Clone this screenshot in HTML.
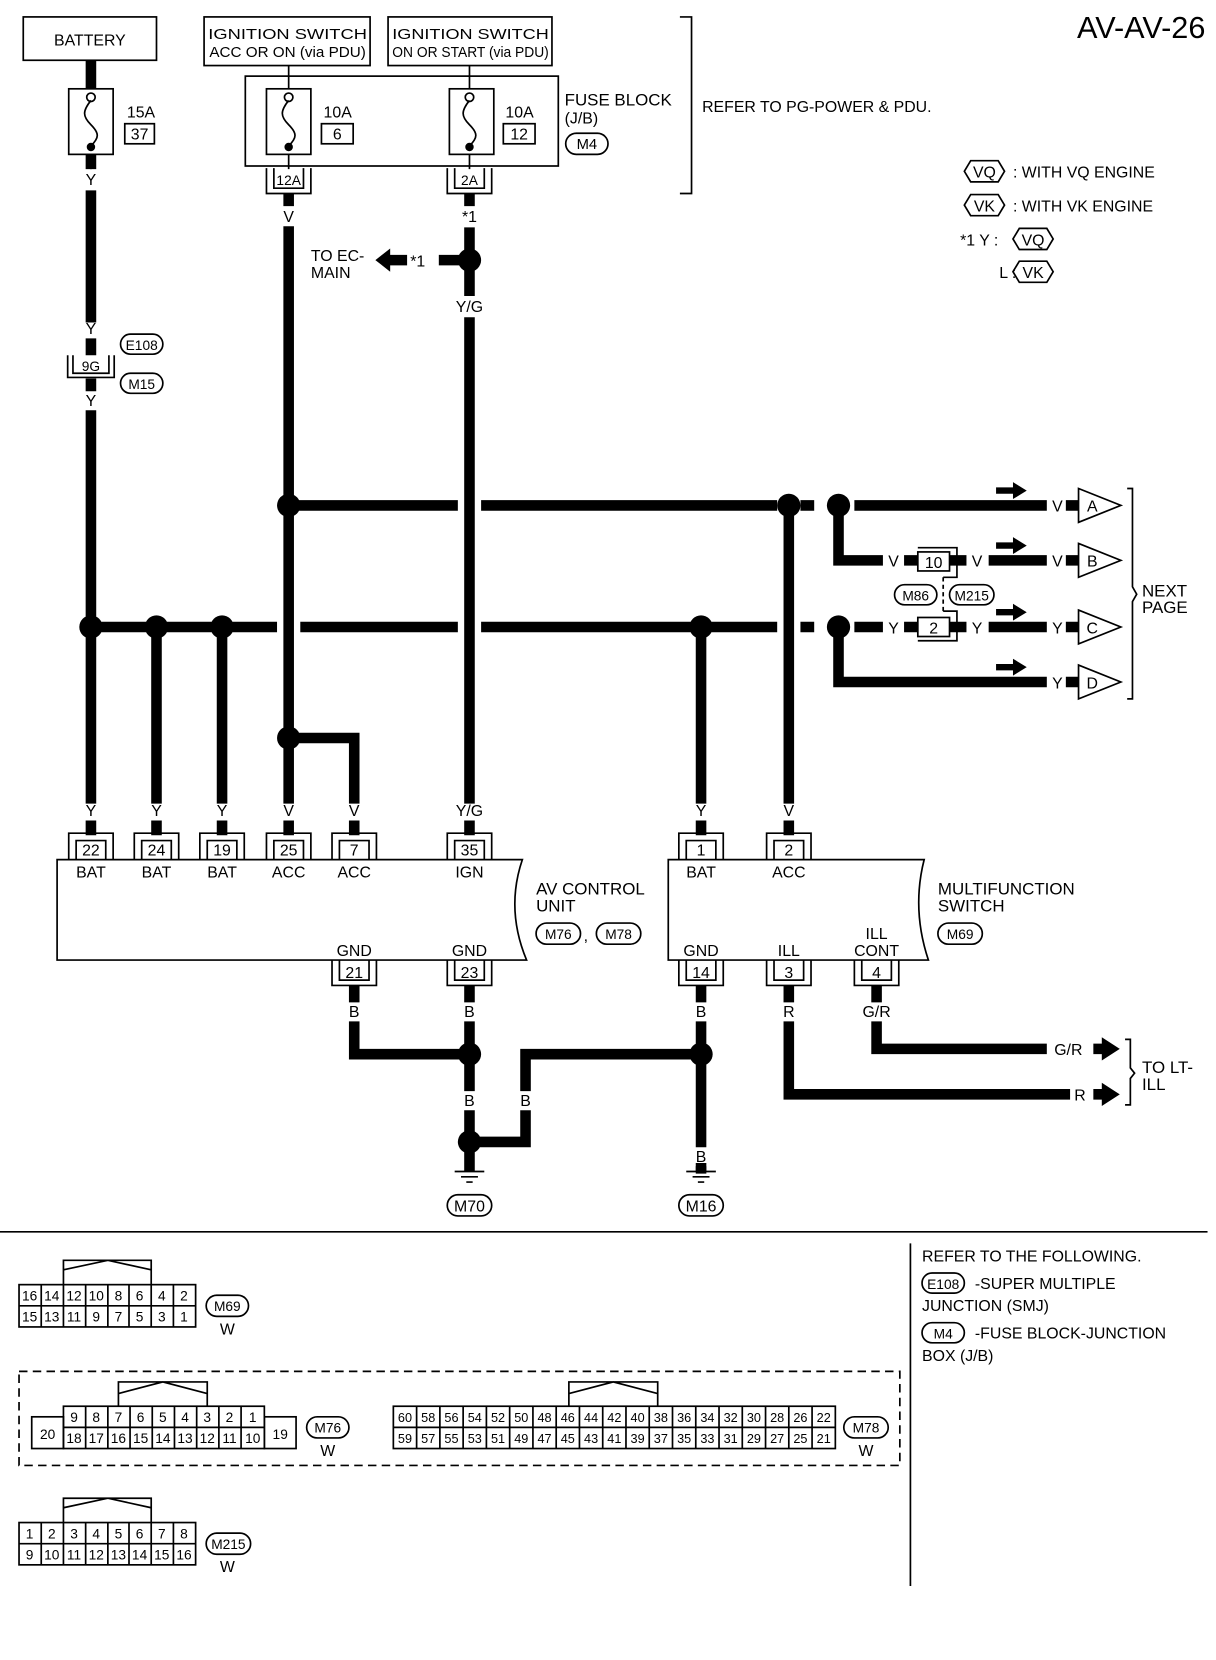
<!DOCTYPE html>
<html><head><meta charset="utf-8"><style>
html,body{margin:0;padding:0;background:#fff}
svg{display:block;font-family:"Liberation Sans",sans-serif}
text{fill:#000}
.t{text-anchor:middle}
.w{stroke:#000;stroke-width:10;fill:none}
.l{stroke:#000;stroke-width:1.6;fill:none}
.c text{text-anchor:middle}
</style></head><body>
<svg width="1216" height="1660" viewBox="0 0 1150 1570" preserveAspectRatio="none" font-size="15" xmlns="http://www.w3.org/2000/svg">
<rect width="1150" height="1570" fill="#fff"/>
<!-- top boxes -->
<rect x="22" y="16" width="126" height="41" class="l"/><text x="85" y="43" class="t">BATTERY</text>
<rect x="193" y="16" width="157" height="46" class="l"/><text x="272" y="37" class="t" font-size="14" textLength="150" lengthAdjust="spacingAndGlyphs">IGNITION SWITCH</text><text x="272" y="54" class="t" font-size="14" textLength="148" lengthAdjust="spacingAndGlyphs">ACC OR ON (via PDU)</text>
<rect x="367" y="16" width="155" height="46" class="l"/><text x="445" y="37" class="t" font-size="14" textLength="148" lengthAdjust="spacingAndGlyphs">IGNITION SWITCH</text><text x="445" y="54" class="t" font-size="14" textLength="148" lengthAdjust="spacingAndGlyphs">ON OR START (via PDU)</text>
<text x="1140" y="36" font-size="29" text-anchor="end">AV-AV-26</text>
<!-- fuse block -->
<rect x="232" y="72" width="296" height="85" class="l"/>
<g class="l">
<rect x="65" y="84" width="42" height="62"/><rect x="252" y="84" width="42" height="62"/><rect x="425" y="84" width="42" height="62"/>
<path d="M86 57V84 M86 146V160 M273 62V84 M444 62V84"/>
<path d="M86 95C78 105 78 110 86 118S94 130 86 138M273 95C265 105 265 110 273 118S281 130 273 138M444 95C436 105 436 110 444 118S452 130 444 138"/>
</g>
<path d="M86 57V84" class="w"/>
<circle cx="86" cy="92" r="4" class="l" fill="#fff"/><circle cx="86" cy="139" r="4"/>
<circle cx="273" cy="92" r="4" class="l" fill="#fff"/><circle cx="273" cy="139" r="4"/>
<circle cx="444" cy="92" r="4" class="l" fill="#fff"/><circle cx="444" cy="139" r="4"/>
<path d="M273 146V160 M444 146V160" class="l"/>
<text x="120" y="111">15A</text><rect x="118" y="117" width="28" height="19" class="l"/><text x="132" y="132" class="t">37</text>
<text x="306" y="111">10A</text><rect x="304" y="117" width="30" height="19" class="l"/><text x="319" y="132" class="t">6</text>
<text x="478" y="111">10A</text><rect x="476" y="117" width="30" height="19" class="l"/><text x="491" y="132" class="t">12</text>
<text x="534" y="100" font-size="16">FUSE BLOCK</text><text x="534" y="117">(J/B)</text>
<rect x="535" y="126" width="40" height="20" rx="10" class="l"/><text x="555" y="141" class="t" font-size="14">M4</text>
<path d="M643 16H654V183H643" class="l" stroke-width="2"/>
<text x="664" y="106">REFER TO PG-POWER &amp; PDU.</text>
<!-- legend -->
<path d="M912 162l6-10h26l6 10-6 10h-26z M912 194l6-10h26l6 10-6 10h-26z M958 226l6-10h26l6 10-6 10h-26z M958 257l6-10h26l6 10-6 10h-26z" class="l" stroke-width="2"/>
<text x="931" y="168" class="t">VQ</text><text x="931" y="200" class="t">VK</text><text x="977" y="232" class="t">VQ</text><text x="977" y="263" class="t">VK</text>
<text x="958" y="168">: WITH VQ ENGINE</text><text x="958" y="200">: WITH VK ENGINE</text>
<text x="908" y="232">*1   Y :</text><text x="945" y="263">L :</text>
<!-- 12A / 2A connectors -->
<g class="l"><path d="M252 159V183H294V159M259 159V178H287V159M423 159V183H465V159M430 159V178H458V159"/></g>
<text x="273" y="175" class="t" font-size="13">12A</text><text x="444" y="175" class="t" font-size="13">2A</text>
<!-- main wires -->
<g class="w">
<path d="M86 146V160M86 180V305M86 320V336M86 358V370M86 388V760M86 776V790"/>
<path d="M148 593V760M148 776V790M210 593V760M210 776V790"/>
<path d="M273 183V195M273 214V760M273 776V790"/>
<path d="M273 698H335V760M335 776V790"/>
<path d="M444 183V195M444 215V280M444 300V760M444 776V790"/>
<path d="M444 246H415"/>
<path d="M273 478H433M455 478H735M757 478H770M808 478H990"/>
<path d="M793 478V530H835M935 530H990"/>
<path d="M86 593H262M284 593H433M455 593H735M757 593H770M808 593H835M935 593H990"/>
<path d="M793 593V645H990"/>
<path d="M663 593V760M663 776V790M746 478V760M746 776V790"/>
<path d="M855 530H868M898 530H914M855 593H868M898 593H914"/>
<!-- bottom -->
<path d="M335 932V948M335 966V997H444M444 932V948M444 966V1032M444 1050V1100"/>
<path d="M444 1080H497V1050M497 1032V997H663M663 932V948M663 966V1085M663 1103V1110"/>
<path d="M746 932V948M746 966V1035H1012M829 932V948M829 966V992H990"/>
</g>
<g>
<circle cx="444" cy="246" r="11"/><circle cx="273" cy="478" r="11"/><circle cx="746" cy="478" r="11"/><circle cx="793" cy="478" r="11"/>
<circle cx="86" cy="593" r="11"/><circle cx="148" cy="593" r="11"/><circle cx="210" cy="593" r="11"/><circle cx="663" cy="593" r="11"/><circle cx="793" cy="593" r="11"/>
<circle cx="273" cy="698" r="11"/>
<circle cx="444" cy="997" r="11"/><circle cx="444" cy="1080" r="11"/><circle cx="663" cy="997" r="11"/>
</g>
<path d="M355 246l14-11v6h16v10h-16v6z"/><text x="388" y="252">*1</text>
<text x="294" y="247">TO EC-</text><text x="294" y="263">MAIN</text>
<g class="t">
<text x="86" y="175">Y</text><text x="86" y="316">Y</text><text x="86" y="384">Y</text>
<text x="273" y="210">V</text><text x="444" y="210">*1</text><text x="444" y="295">Y/G</text>
<text x="86" y="772">Y</text><text x="148" y="772">Y</text><text x="210" y="772">Y</text><text x="273" y="772">V</text><text x="335" y="772">V</text><text x="444" y="772">Y/G</text>
<text x="663" y="772">Y</text><text x="746" y="772">V</text>
<text x="335" y="962">B</text><text x="444" y="962">B</text><text x="444" y="1046">B</text><text x="497" y="1046">B</text>
<text x="663" y="962">B</text><text x="663" y="1099">B</text><text x="746" y="962">R</text><text x="829" y="962">G/R</text>
</g>
<!-- 9G -->
<path d="M64 336V357H108V336M69 336V353H103V336" class="l"/><text x="86" y="351" class="t" font-size="13">9G</text>
<rect x="114" y="316" width="40" height="19" rx="9.5" class="l"/><text x="134" y="331" class="t" font-size="13">E108</text>
<rect x="114" y="353" width="40" height="19" rx="9.5" class="l"/><text x="134" y="368" class="t" font-size="13">M15</text>
<!-- right side connectors -->
<rect x="868" y="522" width="30" height="18" class="l" fill="#fff"/><text x="883" y="537" class="t">10</text>
<path d="M868 518H905V546H892" class="l"/>
<rect x="868" y="584" width="30" height="18" class="l" fill="#fff"/><text x="883" y="599" class="t">2</text>
<path d="M892 578H905V606H868" class="l"/>
<path d="M892 546V578" class="l" stroke-dasharray="4 3"/>
<rect x="846" y="553" width="40" height="19" rx="9.5" class="l"/><text x="866" y="568" class="t" font-size="13">M86</text>
<rect x="898" y="553" width="42" height="19" rx="9.5" class="l"/><text x="919" y="568" class="t" font-size="13">M215</text>
<text x="845" y="536" class="t">V</text><text x="924" y="536" class="t">V</text><text x="845" y="599" class="t">Y</text><text x="924" y="599" class="t">Y</text>
<g class="t"><text x="1000" y="484">V</text><text x="1000" y="536">V</text><text x="1000" y="599">Y</text><text x="1000" y="651">Y</text></g>
<g class="w" stroke-width="6"><path d="M1008 478H1020M1008 530H1020M1008 593H1020M1008 645H1020"/></g>
<g class="l"><path d="M1020 462L1060 478L1020 494ZM1020 514L1060 530L1020 546ZM1020 577L1060 593L1020 609ZM1020 629L1060 645L1020 661Z"/></g>
<g class="t"><text x="1033" y="484">A</text><text x="1033" y="536">B</text><text x="1033" y="599">C</text><text x="1033" y="651">D</text></g>
<g><path d="M942 461h16v-5l13 8-13 8v-5h-16z M942 513h16v-5l13 8-13 8v-5h-16z M942 576h16v-5l13 8-13 8v-5h-16z M942 628h16v-5l13 8-13 8v-5h-16z"/></g>
<path d="M1066 462H1071V555L1075 562L1071 569V661H1066" class="l"/>
<text x="1080" y="564" font-size="16">NEXT</text><text x="1080" y="580" font-size="16">PAGE</text>
<!-- AV control unit -->
<path d="M54 813H494Q478 860 498 908H54Z" class="l" stroke-width="1.8"/>
<g class="l">
<path d="M65 813V788H107V813M72 813V795H100V813"/>
<path d="M127 813V788H169V813M134 813V795H162V813"/>
<path d="M189 813V788H231V813M196 813V795H224V813"/>
<path d="M252 813V788H294V813M259 813V795H287V813"/>
<path d="M314 813V788H356V813M321 813V795H349V813"/>
<path d="M423 813V788H465V813M430 813V795H458V813"/>
<path d="M314 908V932H356V908M321 908V927H349V908"/>
<path d="M423 908V932H465V908M430 908V927H458V908"/>
<path d="M642 813V788H684V813M649 813V795H677V813"/>
<path d="M725 813V788H767V813M732 813V795H760V813"/>
<path d="M642 908V932H684V908M649 908V927H677V908"/>
<path d="M725 908V932H767V908M732 908V927H760V908"/>
<path d="M808 908V932H850V908M815 908V927H843V908"/>
</g>
<g class="t">
<text x="86" y="809">22</text><text x="148" y="809">24</text><text x="210" y="809">19</text><text x="273" y="809">25</text><text x="335" y="809">7</text><text x="444" y="809">35</text>
<text x="86" y="830">BAT</text><text x="148" y="830">BAT</text><text x="210" y="830">BAT</text><text x="273" y="830">ACC</text><text x="335" y="830">ACC</text><text x="444" y="830">IGN</text>
<text x="335" y="904">GND</text><text x="444" y="904">GND</text><text x="335" y="925">21</text><text x="444" y="925">23</text>
<text x="663" y="809">1</text><text x="746" y="809">2</text><text x="663" y="830">BAT</text><text x="746" y="830">ACC</text>
<text x="663" y="904">GND</text><text x="746" y="904">ILL</text><text x="829" y="888">ILL</text><text x="829" y="904">CONT</text>
<text x="663" y="925">14</text><text x="746" y="925">3</text><text x="829" y="925">4</text>
</g>
<text x="507" y="846" font-size="16">AV CONTROL</text><text x="507" y="862" font-size="16">UNIT</text>
<rect x="507" y="873" width="42" height="20" rx="10" class="l"/><text x="528" y="888" class="t" font-size="13">M76</text>
<text x="552" y="890">,</text>
<rect x="564" y="873" width="42" height="20" rx="10" class="l"/><text x="585" y="888" class="t" font-size="13">M78</text>
<path d="M632 813H874Q862 860 878 908H632Z" class="l" stroke-width="1.8"/>
<text x="887" y="846" font-size="16">MULTIFUNCTION</text><text x="887" y="862" font-size="16">SWITCH</text>
<rect x="887" y="873" width="42" height="20" rx="10" class="l"/><text x="908" y="888" class="t" font-size="13">M69</text>
<!-- grounds -->
<path d="M430 1108H458M436 1113H452M441 1118H447M649 1108H677M655 1113H671M660 1118H666" class="l" stroke-width="2"/>
<path d="M444 1100V1108M663 1100V1108" class="w"/>
<rect x="423" y="1130" width="42" height="20" rx="10" class="l" stroke-width="2"/><text x="444" y="1146" class="t">M70</text>
<rect x="642" y="1130" width="42" height="20" rx="10" class="l" stroke-width="2"/><text x="663" y="1146" class="t">M16</text>
<text x="997" y="998">G/R</text><text x="1016" y="1041">R</text>
<path d="M1034 992h8v-11l17 11-17 11v-11z M1034 1035h8v-11l17 11-17 11v-11z M1034 987h8v10h-8zM1034 1030h8v10h-8z"/>
<path d="M1064 983H1069V1010L1073 1015L1069 1020V1045H1064" class="l"/>
<text x="1080" y="1015" font-size="16">TO LT-</text><text x="1080" y="1031" font-size="16">ILL</text>
<!-- separators -->
<path d="M0 1165H1142M861 1176V1500" class="l" stroke-width="2"/>
<text x="872" y="1193">REFER TO THE FOLLOWING.</text>
<rect x="872" y="1204" width="40" height="19" rx="9.5" class="l"/><text x="892" y="1219" class="t" font-size="13">E108</text>
<text x="922" y="1219">-SUPER MULTIPLE</text><text x="872" y="1240">JUNCTION (SMJ)</text>
<rect x="872" y="1251" width="40" height="19" rx="9.5" class="l"/><text x="892" y="1266" class="t" font-size="13">M4</text>
<text x="922" y="1266">-FUSE BLOCK-JUNCTION</text><text x="872" y="1287">BOX (J/B)</text>
<!-- M69 connector -->
<g class="l" stroke-width="1.8">
<path d="M60 1215V1192H143V1215M60 1201L102 1192L143 1201"/>
<rect x="18" y="1215" width="167" height="40"/><path d="M18 1235H185"/>
<path d="M39 1215V1255M60 1215V1255M81 1215V1255M102 1215V1255M122 1215V1255M143 1215V1255M164 1215V1255"/>
</g>
<g class="c" font-size="13">
<text x="28" y="1230">16</text><text x="49" y="1230">14</text><text x="70" y="1230">12</text><text x="91" y="1230">10</text><text x="112" y="1230">8</text><text x="132" y="1230">6</text><text x="153" y="1230">4</text><text x="174" y="1230">2</text>
<text x="28" y="1250">15</text><text x="49" y="1250">13</text><text x="70" y="1250">11</text><text x="91" y="1250">9</text><text x="112" y="1250">7</text><text x="132" y="1250">5</text><text x="153" y="1250">3</text><text x="174" y="1250">1</text>
</g>
<rect x="195" y="1225" width="40" height="20" rx="10" class="l"/><text x="215" y="1240" class="t" font-size="13">M69</text><text x="215" y="1262" class="t">W</text>
<!-- dashed box -->
<rect x="18" y="1297" width="833" height="89" class="l" stroke-width="2" stroke-dasharray="8 5"/>
<!-- M76 -->
<g class="l" stroke-width="1.8">
<path d="M112 1330V1307H196V1330M112 1318L154 1307L196 1318"/>
<rect x="60" y="1330" width="190" height="40"/><path d="M60 1350H250"/>
<path d="M81 1330V1370M102 1330V1370M123 1330V1370M144 1330V1370M165 1330V1370M186 1330V1370M207 1330V1370M228 1330V1370"/>
<rect x="30" y="1340" width="30" height="30"/><rect x="250" y="1340" width="30" height="30"/>
</g>
<g class="c" font-size="13">
<text x="70" y="1345">9</text><text x="91" y="1345">8</text><text x="112" y="1345">7</text><text x="133" y="1345">6</text><text x="154" y="1345">5</text><text x="175" y="1345">4</text><text x="196" y="1345">3</text><text x="217" y="1345">2</text><text x="239" y="1345">1</text>
<text x="70" y="1365">18</text><text x="91" y="1365">17</text><text x="112" y="1365">16</text><text x="133" y="1365">15</text><text x="154" y="1365">14</text><text x="175" y="1365">13</text><text x="196" y="1365">12</text><text x="217" y="1365">11</text><text x="239" y="1365">10</text>
<text x="45" y="1361">20</text><text x="265" y="1361">19</text>
</g>
<rect x="290" y="1340" width="40" height="20" rx="10" class="l"/><text x="310" y="1355" class="t" font-size="13">M76</text><text x="310" y="1377" class="t">W</text>
<!-- M78 -->
<g class="l" stroke-width="1.8">
<path d="M538 1330V1307H622V1330M538 1318L580 1307L622 1318"/>
<rect x="372" y="1330" width="418" height="40"/><path d="M372 1350H790"/>
<path d="M394 1330V1370M416 1330V1370M438 1330V1370M460 1330V1370M482 1330V1370M504 1330V1370M526 1330V1370M548 1330V1370M570 1330V1370M592 1330V1370M614 1330V1370M636 1330V1370M658 1330V1370M680 1330V1370M702 1330V1370M724 1330V1370M746 1330V1370M768 1330V1370"/>
</g>
<g class="c" font-size="12">
<text x="383" y="1345">60</text><text x="405" y="1345">58</text><text x="427" y="1345">56</text><text x="449" y="1345">54</text><text x="471" y="1345">52</text><text x="493" y="1345">50</text><text x="515" y="1345">48</text><text x="537" y="1345">46</text><text x="559" y="1345">44</text><text x="581" y="1345">42</text><text x="603" y="1345">40</text><text x="625" y="1345">38</text><text x="647" y="1345">36</text><text x="669" y="1345">34</text><text x="691" y="1345">32</text><text x="713" y="1345">30</text><text x="735" y="1345">28</text><text x="757" y="1345">26</text><text x="779" y="1345">22</text>
<text x="383" y="1365">59</text><text x="405" y="1365">57</text><text x="427" y="1365">55</text><text x="449" y="1365">53</text><text x="471" y="1365">51</text><text x="493" y="1365">49</text><text x="515" y="1365">47</text><text x="537" y="1365">45</text><text x="559" y="1365">43</text><text x="581" y="1365">41</text><text x="603" y="1365">39</text><text x="625" y="1365">37</text><text x="647" y="1365">35</text><text x="669" y="1365">33</text><text x="691" y="1365">31</text><text x="713" y="1365">29</text><text x="735" y="1365">27</text><text x="757" y="1365">25</text><text x="779" y="1365">21</text>
</g>
<rect x="798" y="1340" width="42" height="20" rx="10" class="l"/><text x="819" y="1355" class="t" font-size="13">M78</text><text x="819" y="1377" class="t">W</text>
<!-- M215 -->
<g class="l" stroke-width="1.8">
<path d="M60 1440V1417H143V1440M60 1426L102 1417L143 1426"/>
<rect x="18" y="1440" width="167" height="40"/><path d="M18 1460H185"/>
<path d="M39 1440V1480M60 1440V1480M81 1440V1480M102 1440V1480M122 1440V1480M143 1440V1480M164 1440V1480"/>
</g>
<g class="c" font-size="13">
<text x="28" y="1455">1</text><text x="49" y="1455">2</text><text x="70" y="1455">3</text><text x="91" y="1455">4</text><text x="112" y="1455">5</text><text x="132" y="1455">6</text><text x="153" y="1455">7</text><text x="174" y="1455">8</text>
<text x="28" y="1475">9</text><text x="49" y="1475">10</text><text x="70" y="1475">11</text><text x="91" y="1475">12</text><text x="112" y="1475">13</text><text x="132" y="1475">14</text><text x="153" y="1475">15</text><text x="174" y="1475">16</text>
</g>
<rect x="195" y="1450" width="42" height="20" rx="10" class="l"/><text x="216" y="1465" class="t" font-size="13">M215</text><text x="215" y="1487" class="t">W</text>
</svg>
</body></html>
